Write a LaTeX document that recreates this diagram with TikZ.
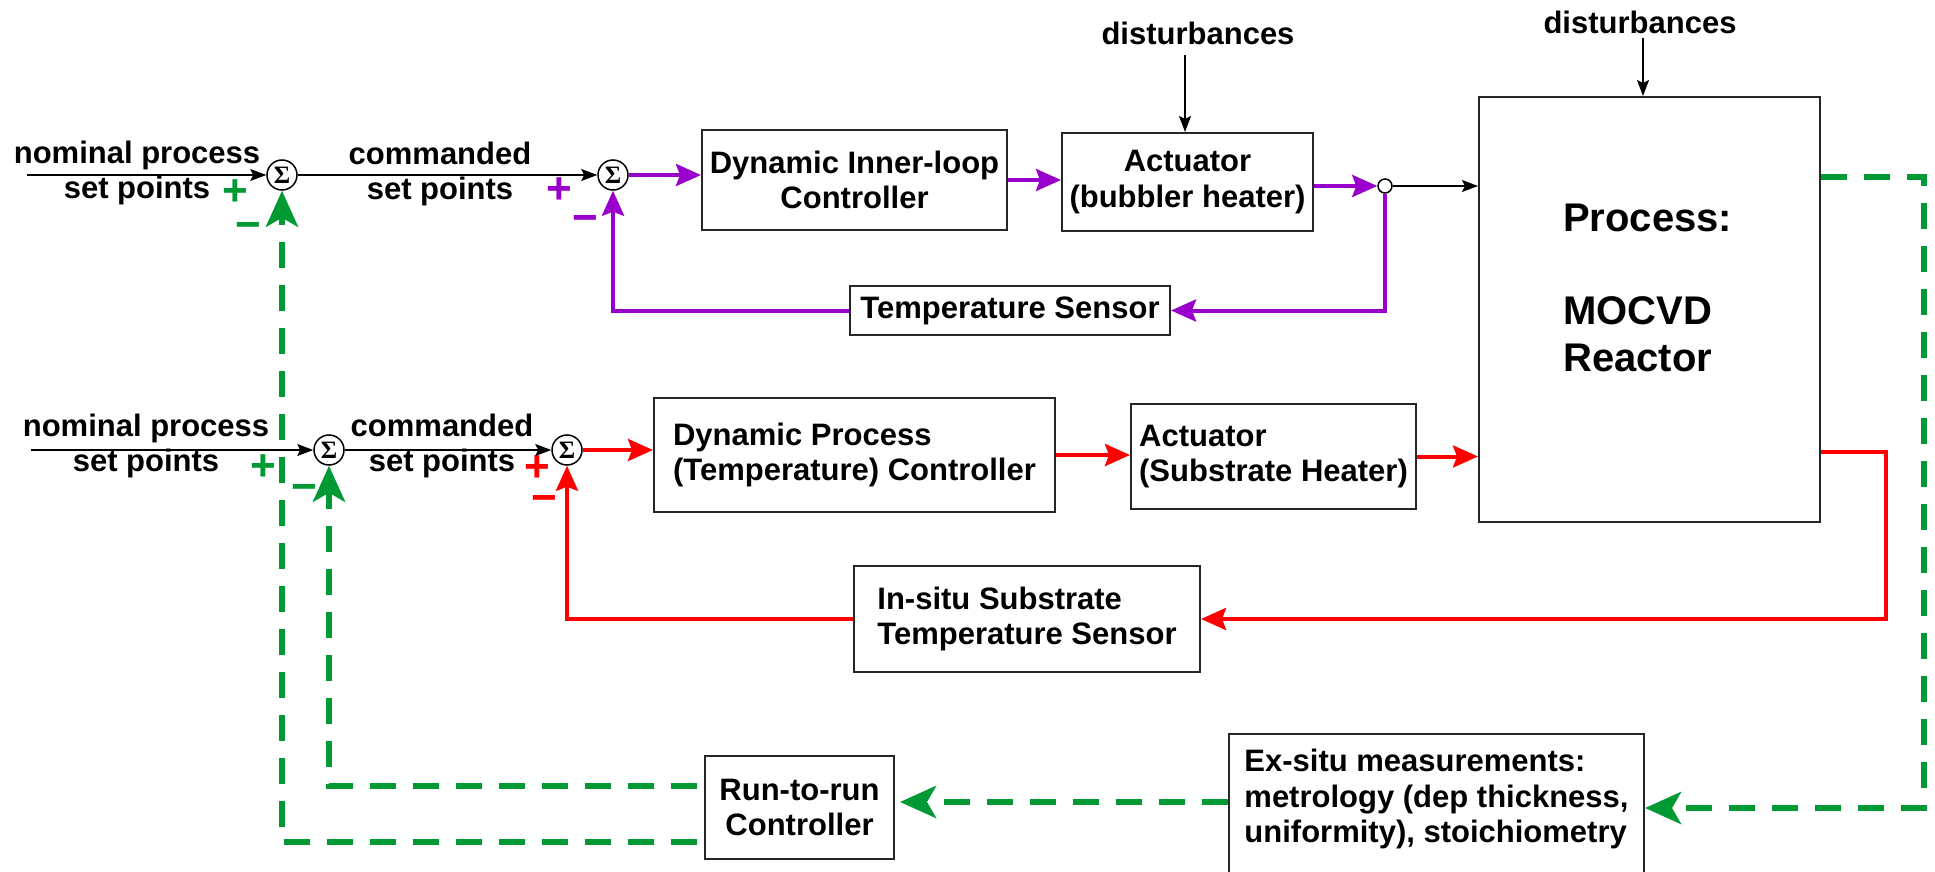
\documentclass[tikz,border=0pt]{standalone}
\usepackage{fontspec}
\setmainfont{Liberation Sans}
\newfontfamily\sigfont{Liberation Serif}
\usetikzlibrary{arrows.meta,calc}
\definecolor{gr}{RGB}{0,153,51}
\definecolor{pu}{RGB}{153,0,204}
\definecolor{rd}{RGB}{255,0,0}
\begin{document}
\begin{tikzpicture}[x=1pt,y=-1pt,
  txt/.style={font=\fontsize{31}{35.5}\selectfont\bfseries, align=center, inner sep=0pt},
  blk/.style={draw=black!85, line width=2pt, fill=white, font=\fontsize{31}{35.5}\selectfont\bfseries, inner sep=0pt},
  sumnode/.style={circle, draw, line width=1.5pt, minimum size=30pt, inner sep=0pt, fill=white, font=\sigfont\bfseries\fontsize{25}{25}\selectfont},
  thinarrow/.style={line width=1.6pt, -{Stealth[length=16pt,width=12pt,inset=3pt]}},
  parrow/.style={pu, line width=4pt, -{Stealth[length=25pt,width=22pt,inset=4pt]}},
  rarrow/.style={rd, line width=4pt, -{Stealth[length=25pt,width=22pt,inset=4pt]}},
  garrow/.style={gr, line width=6pt, dash pattern=on 26pt off 17pt, -{Stealth[length=36pt,width=32pt,inset=9pt]}},
  sgn/.style={font=\fontsize{44}{44}\selectfont\bfseries, inner sep=0pt, text height=24pt, text depth=-6pt}
]
\path[use as bounding box] (0,0) rectangle (1935,872);

% ---------- top loop ----------
\node[txt] (nom1) at (137,173) {nominal process\\set points};
\node[sumnode] (s1) at (282,175) {Σ};
\node[txt] (cmd1) at (440,174) {commanded\\set points};
\node[sumnode] (s2) at (613,175) {Σ};
\node[blk, minimum width=305pt, minimum height=100pt, align=center] (inner) at (854.5,180) {Dynamic Inner-loop\\Controller};
\node[blk, minimum width=251pt, minimum height=98pt, align=center] (act1) at (1187.5,182) {Actuator\\(bubbler heater)};
\node[circle, draw, line width=1.5pt, minimum size=14pt, inner sep=0pt, fill=white] (jn) at (1385,186) {};
\node[blk, minimum width=320pt, minimum height=49pt] (ts) at (1010,310.5) {Temperature Sensor};
\node[txt] (dist1) at (1198,33) {disturbances};
\node[txt] (dist2) at (1640,22) {disturbances};
\node[blk, minimum width=341pt, minimum height=425pt] (proc) at (1649.5,309.5) {};
\node[font=\fontsize{40}{46.5}\selectfont\bfseries, align=left, anchor=west, inner sep=0pt] (proctxt) at (1563,288) {Process:\\[46.5pt]MOCVD\\Reactor};

\node[sgn, text=gr] (p1) at (235,193) {+};
\node[sgn, text=gr] (m1) at (248,227) {−};
\node[sgn, text=pu] (p2) at (559,191.5) {+};
\node[sgn, text=pu] (m2) at (585.5,220) {−};

% ---------- second loop ----------
\node[txt] (nom2) at (146,446) {nominal process\\set points};
\node[sumnode] (s3) at (329,450) {Σ};
\node[txt] (cmd2) at (442,446) {commanded\\set points};
\node[sumnode] (s4) at (567,450) {Σ};
\node[blk, minimum width=401pt, minimum height=114pt, align=left] (dp) at (854.5,455) {Dynamic Process\\(Temperature) Controller};
\node[blk, minimum width=285pt, minimum height=105pt, align=left] (act2) at (1273.5,456.5) {Actuator\\(Substrate Heater)};
\node[blk, minimum width=346pt, minimum height=106pt, align=left] (insitu) at (1027,619) {In-situ Substrate\\Temperature Sensor};

\node[sgn, text=gr] (p3) at (263,468) {+};
\node[sgn, text=gr] (m3) at (304,489) {−};
\node[sgn, text=rd] (p4) at (537.5,469.5) {+};
\node[sgn, text=rd] (m4) at (544,500) {−};

% ---------- run-to-run ----------
\node[blk, minimum width=189pt, minimum height=103pt, align=center] (r2r) at (799.5,807.5) {Run-to-run\\Controller};
\node[blk, minimum width=415pt, minimum height=145pt, anchor=north] (exbox) at (1436.5,733) {};
\node[txt, align=left] (extxt) at (1436.5,799) {Ex-situ measurements:\\metrology (dep thickness,\\uniformity), stoichiometry};

% ---------- connectors ----------
\coordinate (in1) at (27,175);
\draw[thinarrow] (in1) -- (s1.west);
\draw[thinarrow] (s1.east) -- (s2.west);
\draw[parrow] (s2.east) -- (s2.east -| inner.west);
\draw[parrow] (inner.east) -- (inner.east -| act1.west);
\draw[parrow] (jn.west -| act1.east) -- (jn.west);
\draw[thinarrow] (jn.east) -- (jn.east -| proc.west);
\draw[parrow] (jn.south) |- (ts.east);
\draw[parrow] (ts.west) -| (s2.south);
\coordinate (d1) at (1185,55);
\draw[thinarrow] (d1) -- (d1 |- act1.north);
\coordinate (d2) at (1643,38);
\draw[thinarrow] (d2) -- (d2 |- proc.north);

\coordinate (in2) at (31,450);
\draw[thinarrow] (in2) -- (s3.west);
\draw[thinarrow] (s3.east) -- (s4.west);
\draw[rarrow] (s4.east) -- (s4.east -| dp.west);
\draw[rarrow] (dp.east) -- (dp.east -| act2.west);
\draw[rarrow] (act2.east) -- (act2.east -| proc.west);
\coordinate (rc) at (1886,452);
\draw[rarrow] (proc.east |- rc) -- (rc) |- (insitu.east);
\draw[rarrow] (insitu.west) -| (s4.south);

\coordinate (gc1) at (1924,177);
\coordinate (gc2) at (1924,808);
\draw[garrow] (proc.east |- gc1) -- (gc1) -- (gc2) -- (gc2 -| exbox.east);
\coordinate (gy) at (0,802);
\draw[garrow, shorten >=5pt] (exbox.west |- gy) -- (r2r.east |- gy);
\coordinate (gy1) at (0,786);
\coordinate (gy2) at (0,842);
\draw[garrow, shorten <=7pt] (r2r.west |- gy1) -| (s3.south);
\draw[garrow, shorten <=7pt] (r2r.west |- gy2) -| (s1.south);
\end{tikzpicture}
\end{document}
